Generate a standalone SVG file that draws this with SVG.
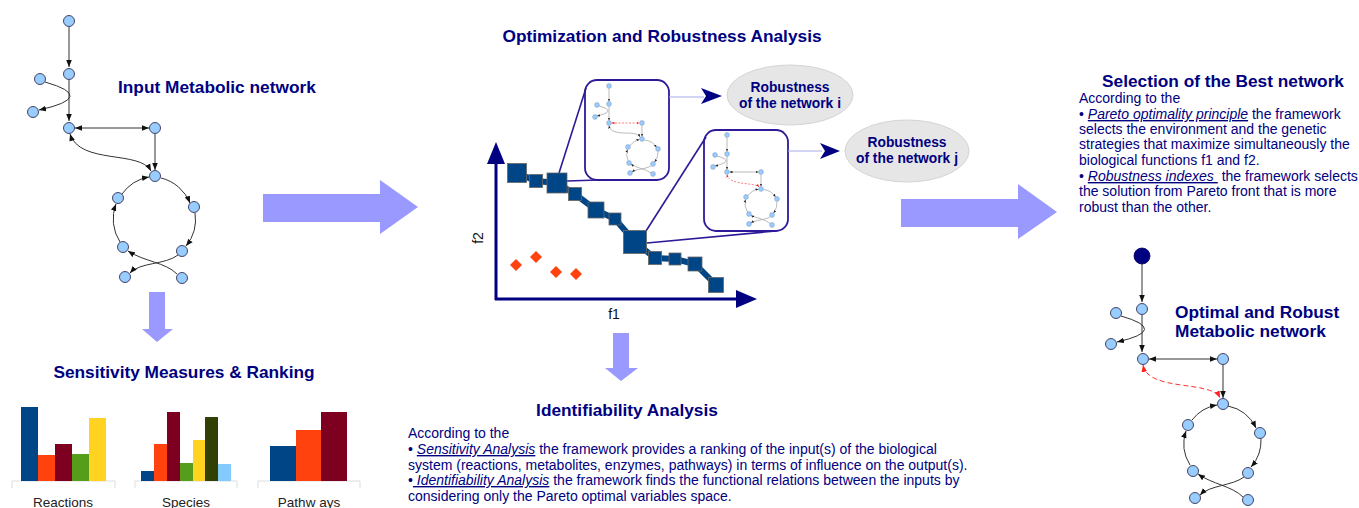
<svg xmlns="http://www.w3.org/2000/svg" width="1359" height="508" viewBox="0 0 1359 508">
<style>
.t{font-family:"Liberation Sans",Arial,sans-serif;font-weight:bold;font-size:17.3px;fill:#000080}
.b{font-family:"Liberation Sans",Arial,sans-serif;font-size:14px;fill:#000080}
.u{font-style:italic;text-decoration:underline}
.el{font-family:"Liberation Sans",Arial,sans-serif;font-weight:bold;font-size:13.8px;fill:#000080;text-anchor:middle}
.lab{font-family:"Liberation Sans",Arial,sans-serif;font-size:13.5px;fill:#222;text-anchor:middle}
.ax{font-family:"Liberation Sans",Arial,sans-serif;font-size:14px;fill:#111}
.nd{fill:#99ccff;stroke:#335;stroke-width:0.9}
.nds{fill:#99ccff;stroke:#7799bb;stroke-width:0.5}
.e{fill:none;stroke:#333;stroke-width:1}
.es{fill:none;stroke:#aaa;stroke-width:0.8}
.rd{fill:none;stroke:#ff3030;stroke-width:1;stroke-dasharray:5,3}
.rds{fill:none;stroke:#ff6060;stroke-width:0.8;stroke-dasharray:2,1.5}
.big{fill:#9999ff}
.sq{fill:#004586;stroke:#666;stroke-width:0.8}
.dm{fill:#ff420e}
.box{fill:#fff;stroke:#2e1a99;stroke-width:1.8}
.zl{stroke:#2e1a99;stroke-width:1.6;fill:none}
.grid{stroke:#ddd;stroke-width:1;fill:none}
</style>
<defs>
<marker id="ah" viewBox="0 0 10 10" refX="10" refY="5" markerWidth="7" markerHeight="7" markerUnits="userSpaceOnUse" orient="auto-start-reverse"><path d="M0,1 L10,5 L0,9 z" fill="#111"/></marker>
<marker id="ahr" viewBox="0 0 10 10" refX="10" refY="5" markerWidth="7" markerHeight="7" markerUnits="userSpaceOnUse" orient="auto-start-reverse"><path d="M0,1 L10,5 L0,9 z" fill="#ff2020"/></marker>
<marker id="ahs" viewBox="0 0 10 10" refX="10" refY="5" markerWidth="3" markerHeight="3" markerUnits="userSpaceOnUse" orient="auto-start-reverse"><path d="M0,1 L10,5 L0,9 z" fill="#222"/></marker>
<marker id="ahsr" viewBox="0 0 10 10" refX="10" refY="5" markerWidth="3" markerHeight="3" markerUnits="userSpaceOnUse" orient="auto-start-reverse"><path d="M0,1 L10,5 L0,9 z" fill="#ff2020"/></marker>
</defs>

<g id="inset-i">
  <rect class="box" x="585" y="80" width="84" height="100" rx="12"/>
</g>
<g id="inset-j">
  <rect class="box" x="704" y="130" width="84" height="101" rx="12"/>
</g>

<!-- Connectors -->
<g id="connectors">
  <!-- left network -->
  <path class="e" d="M69,27 L69,67" marker-end="url(#ah)"/>
  <path class="e" d="M69,80 L69,121" marker-end="url(#ah)"/>
  <path class="e" d="M45,82 Q98,97 39,110" marker-end="url(#ah)"/>
  <path class="e" d="M75,128 L149,128" marker-start="url(#ah)" marker-end="url(#ah)"/>
  <path class="e" d="M155,134 L155,170" marker-end="url(#ah)"/>
  <path class="e" d="M70,134 C80,165 140,150 151,171" marker-start="url(#ah)" marker-end="url(#ah)"/>
  <path class="e" d="M161,178 A42,42 0 0 1 190,203" marker-end="url(#ah)"/>
  <path class="e" d="M195,213 A42,42 0 0 1 186,246" marker-end="url(#ah)"/>
  <path class="e" d="M120,242 A42,42 0 0 1 116,204" marker-end="url(#ah)"/>
  <path class="e" d="M122,194 A42,42 0 0 1 149,177" marker-end="url(#ah)"/>
  <path class="e" d="M178,255 C165,265 140,262 130,273" marker-end="url(#ah)"/>
  <path class="e" d="M177,274 C165,262 145,262 128,251" marker-end="url(#ah)"/>

  <!-- right network -->
  <path class="e" d="M1142,264 L1142,302" marker-end="url(#ah)"/>
  <path class="e" d="M1142,315 L1142,352" marker-end="url(#ah)"/>
  <path class="e" d="M1121,316 Q1170,330 1117,342" marker-end="url(#ah)"/>
  <path class="e" d="M1149,359 L1217,359" marker-start="url(#ah)" marker-end="url(#ah)"/>
  <path class="e" d="M1223,365 L1223,398" marker-end="url(#ah)"/>
  <path class="rd" d="M1143,365 C1148,392 1212,380 1220,398" marker-start="url(#ahr)" marker-end="url(#ahr)"/>
  <path class="e" d="M1228,406 A40,40 0 0 1 1256,428" marker-end="url(#ah)"/>
  <path class="e" d="M1261,439 A40,40 0 0 1 1251,467" marker-end="url(#ah)"/>
  <path class="e" d="M1190,465 A40,40 0 0 1 1186,431" marker-end="url(#ah)"/>
  <path class="e" d="M1192,420 A40,40 0 0 1 1217,405" marker-end="url(#ah)"/>
  <path class="e" d="M1244,477 C1232,486 1210,485 1200,495" marker-end="url(#ah)"/>
  <path class="e" d="M1243,497 C1232,486 1212,484 1198,474" marker-end="url(#ah)"/>

  <!-- mini network 1 -->
  <path class="es" d="M609,88.5 L609,101.5" marker-end="url(#ahs)"/>
  <path class="es" d="M609,106.5 L609,120.5" marker-end="url(#ahs)"/>
  <path class="es" d="M599,106 Q618,111 597,116" marker-end="url(#ahs)"/>
  <path class="rds" d="M611.5,123 L639.5,123" marker-start="url(#ahsr)" marker-end="url(#ahsr)"/>
  <path class="es" d="M642,125.5 L642,136.5" marker-end="url(#ahs)"/>
  <path class="es" d="M609,125.5 C611,138 636,129 640,137" marker-start="url(#ahs)" marker-end="url(#ahs)"/>
  <path class="es" d="M644.5,140 A15.5,15.5 0 0 1 656.5,147.5" marker-end="url(#ahs)"/>
  <path class="es" d="M658,151.5 A15.5,15.5 0 0 1 654.5,162" marker-end="url(#ahs)"/>
  <path class="es" d="M628,160.5 A15.5,15.5 0 0 1 627.5,149.5" marker-end="url(#ahs)"/>
  <path class="es" d="M630,145.5 A15.5,15.5 0 0 1 639.5,139.5" marker-end="url(#ahs)"/>
  <path class="es" d="M651,166 C646,169 636,169 632,172" marker-end="url(#ahs)"/>
  <path class="es" d="M651,173 C646,169 636,168 631,164" marker-end="url(#ahs)"/>

  <!-- mini network 2 -->
  <path class="es" d="M727,137.5 L727,151.5" marker-end="url(#ahs)"/>
  <path class="es" d="M727,156.5 L727,169.5" marker-end="url(#ahs)"/>
  <path class="es" d="M717,156 Q736,161 715,166" marker-end="url(#ahs)"/>
  <path class="es" d="M729.5,172 L758.5,172" marker-start="url(#ahs)" marker-end="url(#ahs)"/>
  <path class="es" d="M761,174.5 L761,186.5" marker-end="url(#ahs)"/>
  <path class="rds" d="M727,174.5 C729,186 755,182 759,187" marker-start="url(#ahsr)" marker-end="url(#ahsr)"/>
  <path class="es" d="M763.5,189.5 A16,16 0 0 1 775.5,197" marker-end="url(#ahs)"/>
  <path class="es" d="M777,201.5 A16,16 0 0 1 773.5,213" marker-end="url(#ahs)"/>
  <path class="es" d="M747.5,212 A16,16 0 0 1 745.5,199.5" marker-end="url(#ahs)"/>
  <path class="es" d="M748,195.5 A16,16 0 0 1 758.5,189.2" marker-end="url(#ahs)"/>
  <path class="es" d="M770,217 C765,220 755,220 751,223" marker-end="url(#ahs)"/>
  <path class="es" d="M770,223.5 C765,219 756,218 751,215.5" marker-end="url(#ahs)"/>

  <!-- zoom lines from pareto points to insets -->
  <path class="zl" d="M559,173 L586,88"/>
  <path class="zl" d="M567,181 L598,180"/>
  <path class="zl" d="M646,231 L706,137"/>
  <path class="zl" d="M647,243 L776,231"/>

  <!-- inset to robustness arrows -->
  <path d="M669,97 L704,97" stroke="#a8a8e8" stroke-width="1.2" fill="none"/>
  <polygon points="701,88 722,96 701,104 706,96" fill="#000080"/>
  <path d="M788,151 L822,151" stroke="#a8a8e8" stroke-width="1.2" fill="none"/>
  <polygon points="820,143 840,151 820,159 825,151" fill="#000080"/>
</g>

<!-- Input metabolic network -->
<g id="input-network">
  <circle class="nd" cx="69" cy="21" r="5.5"/>
  <circle class="nd" cx="69" cy="74" r="5.5"/>
  <circle class="nd" cx="40" cy="79" r="5.5"/>
  <circle class="nd" cx="33" cy="112" r="5.5"/>
  <circle class="nd" cx="69" cy="128" r="5.5"/>
  <circle class="nd" cx="155" cy="128" r="5.5"/>
  <circle class="nd" cx="155" cy="176" r="5.5"/>
  <circle class="nd" cx="118" cy="198" r="5.5"/>
  <circle class="nd" cx="194" cy="207" r="5.5"/>
  <circle class="nd" cx="123" cy="247" r="5.5"/>
  <circle class="nd" cx="182" cy="251" r="5.5"/>
  <circle class="nd" cx="125" cy="277" r="5.5"/>
  <circle class="nd" cx="182" cy="278" r="5.5"/>
  <text class="t" x="118" y="93">Input Metabolic network</text>
</g>

<g id="arrow-down-left"><polygon class="big" points="149,292 165,292 165,329 173,329 157,342 142,329 149,329"/></g>

<g id="sensitivity">
  <text class="t" x="184" y="378" text-anchor="middle">Sensitivity Measures &amp; Ranking</text>
  <!-- reactions -->
  <path class="grid" d="M12,488 L12,481 L115,481 L115,488"/>
  <rect x="21" y="407" width="17" height="74" fill="#004586"/>
  <rect x="38" y="455" width="17" height="26" fill="#ff420e"/>
  <rect x="55" y="444" width="17" height="37" fill="#7e0021"/>
  <rect x="72" y="454" width="17" height="27" fill="#579d1c"/>
  <rect x="89" y="418" width="17" height="63" fill="#ffd320"/>
  <text class="lab" x="63" y="507">Reactions</text>
  <!-- species -->
  <path class="grid" d="M135,488 L135,481 L237,481 L237,488"/>
  <rect x="141" y="471" width="13" height="10" fill="#004586"/>
  <rect x="154" y="444" width="13" height="37" fill="#ff420e"/>
  <rect x="167" y="412" width="13" height="69" fill="#7e0021"/>
  <rect x="180" y="463" width="13" height="18" fill="#579d1c"/>
  <rect x="193" y="440" width="12" height="41" fill="#ffd320"/>
  <rect x="205" y="417" width="13" height="64" fill="#314004"/>
  <rect x="218" y="464" width="13" height="17" fill="#83caff"/>
  <text class="lab" x="186" y="507">Species</text>
  <!-- pathways -->
  <path class="grid" d="M258,488 L258,481 L360,481 L360,488"/>
  <rect x="270" y="446" width="26" height="35" fill="#004586"/>
  <rect x="296" y="430" width="25" height="51" fill="#ff420e"/>
  <rect x="321" y="412" width="26" height="69" fill="#7e0021"/>
  <text class="lab" x="309" y="507">Pathw ays</text>
</g>

<g id="arrow-right-1"><polygon class="big" points="263,194 380,194 380,180 418,207 380,234 380,222 263,222"/></g>

<g id="optimization">
  <text class="t" x="662" y="42" text-anchor="middle">Optimization and Robustness Analysis</text>
  <!-- axes -->
  <path d="M496,300 L496,162 M495,299 L738,299" stroke="#000080" stroke-width="3" fill="none"/>
  <polygon points="487,164 496,142 505,164" fill="#000080"/>
  <polygon points="736,290 757,299 736,308" fill="#000080"/>
  <text class="ax" x="0" y="0" transform="translate(483,238) rotate(-90)" text-anchor="middle">f2</text>
  <text class="ax" x="614" y="319" text-anchor="middle">f1</text>
  <!-- pareto front -->
  <polyline points="517,173 536,181 557,183 575,194 596,210 615,219 635,242 655,258 675,259 695,264 716,285" fill="none" stroke="#004586" stroke-width="6"/>
  <rect class="sq" x="507.5" y="163.5" width="19" height="19"/>
  <rect class="sq" x="529.5" y="174.5" width="13" height="13"/>
  <rect class="sq" x="547" y="173" width="20" height="20"/>
  <rect class="sq" x="568.5" y="187.5" width="13" height="13"/>
  <rect class="sq" x="588" y="202" width="16" height="16"/>
  <rect class="sq" x="609" y="213" width="12" height="12"/>
  <rect class="sq" x="623.5" y="230.5" width="23" height="23"/>
  <rect class="sq" x="648.5" y="251.5" width="13" height="13"/>
  <rect class="sq" x="669" y="253" width="12" height="12"/>
  <rect class="sq" x="688" y="257" width="14" height="14"/>
  <rect class="sq" x="708.5" y="277.5" width="15" height="15"/>
  <!-- dominated points -->
  <polygon class="dm" points="516,259 522,265 516,271 510,265"/>
  <polygon class="dm" points="536,251 542,257 536,263 530,257"/>
  <polygon class="dm" points="556,266 562,272 556,278 550,272"/>
  <polygon class="dm" points="576,268 582,274 576,280 570,274"/>
</g>

<g id="mini-network-i">
  <circle class="nds" cx="609" cy="86" r="2.4"/>
  <circle class="nds" cx="609" cy="104" r="2.4"/>
  <circle class="nds" cx="597" cy="105" r="2.4"/>
  <circle class="nds" cx="595" cy="117" r="2.4"/>
  <circle class="nds" cx="609" cy="123" r="2.4"/>
  <circle class="nds" cx="642" cy="123" r="2.4"/>
  <circle class="nds" cx="642" cy="139" r="2.4"/>
  <circle class="nds" cx="628" cy="147" r="2.4"/>
  <circle class="nds" cx="658" cy="149" r="2.4"/>
  <circle class="nds" cx="629" cy="163" r="2.4"/>
  <circle class="nds" cx="653" cy="164" r="2.4"/>
  <circle class="nds" cx="630" cy="173" r="2.4"/>
  <circle class="nds" cx="653" cy="174" r="2.4"/>
</g>
<g id="mini-network-j">
  <circle class="nds" cx="727" cy="135" r="2.4"/>
  <circle class="nds" cx="727" cy="154" r="2.4"/>
  <circle class="nds" cx="715" cy="155" r="2.4"/>
  <circle class="nds" cx="713" cy="167" r="2.4"/>
  <circle class="nds" cx="727" cy="172" r="2.4"/>
  <circle class="nds" cx="761" cy="172" r="2.4"/>
  <circle class="nds" cx="761" cy="189" r="2.4"/>
  <circle class="nds" cx="746" cy="197" r="2.4"/>
  <circle class="nds" cx="777" cy="199" r="2.4"/>
  <circle class="nds" cx="749" cy="214" r="2.4"/>
  <circle class="nds" cx="772" cy="215" r="2.4"/>
  <circle class="nds" cx="749" cy="224" r="2.4"/>
  <circle class="nds" cx="772" cy="225" r="2.4"/>
</g>

<g id="robustness-i">
  <ellipse cx="790" cy="95" rx="63" ry="30" fill="#e6e6e6" stroke="#d4d4d4" stroke-width="1"/>
  <text class="el" x="790" y="92">Robustness</text>
  <text class="el" x="790" y="108">of the network i</text>
</g>
<g id="robustness-j">
  <ellipse cx="907" cy="151" rx="62" ry="31" fill="#e6e6e6" stroke="#d4d4d4" stroke-width="1"/>
  <text class="el" x="907" y="147">Robustness</text>
  <text class="el" x="907" y="163">of the network j</text>
</g>

<g id="arrow-down-mid"><polygon class="big" points="613,333 629,333 629,368 638,368 621,381 605,368 613,368"/></g>

<g id="identifiability">
  <text class="t" x="627" y="416" text-anchor="middle">Identifiability Analysis</text>
  <text class="b" x="408" y="438">According to the</text>
  <text class="b" x="408" y="454">• <tspan class="u">Sensitivity Analysis</tspan> the framework provides a ranking of the input(s) of the biological</text>
  <text class="b" x="408" y="470">system (reactions, metabolites, enzymes, pathways) in terms of influence on the output(s).</text>
  <text class="b" x="408" y="485">•<tspan class="u">&#160;Identifiability Analysis</tspan> the framework finds the functional relations between the inputs by</text>
  <text class="b" x="408" y="501">considering only the Pareto optimal variables space.</text>
</g>

<g id="arrow-right-2"><polygon class="big" points="901,199 1018,199 1018,184 1057,212 1018,239 1018,227 901,227"/></g>

<g id="selection">
  <text class="t" x="1223" y="87" text-anchor="middle">Selection of the Best network</text>
  <text class="b" x="1079" y="103">According to the</text>
  <text class="b" x="1079" y="119">• <tspan class="u">Pareto optimality principle</tspan> the framework</text>
  <text class="b" x="1079" y="134">selects the environment and the genetic</text>
  <text class="b" x="1079" y="149">strategies that maximize simultaneously the</text>
  <text class="b" x="1079" y="165">biological functions f1 and f2.</text>
  <text class="b" x="1079" y="181">• <tspan class="u">Robustness indexes&#160;</tspan> the framework selects</text>
  <text class="b" x="1079" y="196">the solution from Pareto front that is more</text>
  <text class="b" x="1079" y="212">robust than the other.</text>
</g>

<g id="optimal-network">
  <circle cx="1142" cy="256" r="8" fill="#000080" stroke="#000060" stroke-width="0.8"/>
  <circle class="nd" cx="1142" cy="309" r="5.5"/>
  <circle class="nd" cx="1116" cy="313" r="5.5"/>
  <circle class="nd" cx="1111" cy="344" r="5.5"/>
  <circle class="nd" cx="1143" cy="359" r="5.5"/>
  <circle class="nd" cx="1223" cy="359" r="5.5"/>
  <circle class="nd" cx="1223" cy="404" r="5.5"/>
  <circle class="nd" cx="1188" cy="425" r="5.5"/>
  <circle class="nd" cx="1260" cy="433" r="5.5"/>
  <circle class="nd" cx="1193" cy="471" r="5.5"/>
  <circle class="nd" cx="1248" cy="473" r="5.5"/>
  <circle class="nd" cx="1195" cy="498" r="5.5"/>
  <circle class="nd" cx="1248" cy="500" r="5.5"/>
  <text class="t" x="1175" y="318">Optimal and Robust</text>
  <text class="t" x="1175" y="337">Metabolic network</text>
</g>
</svg>
